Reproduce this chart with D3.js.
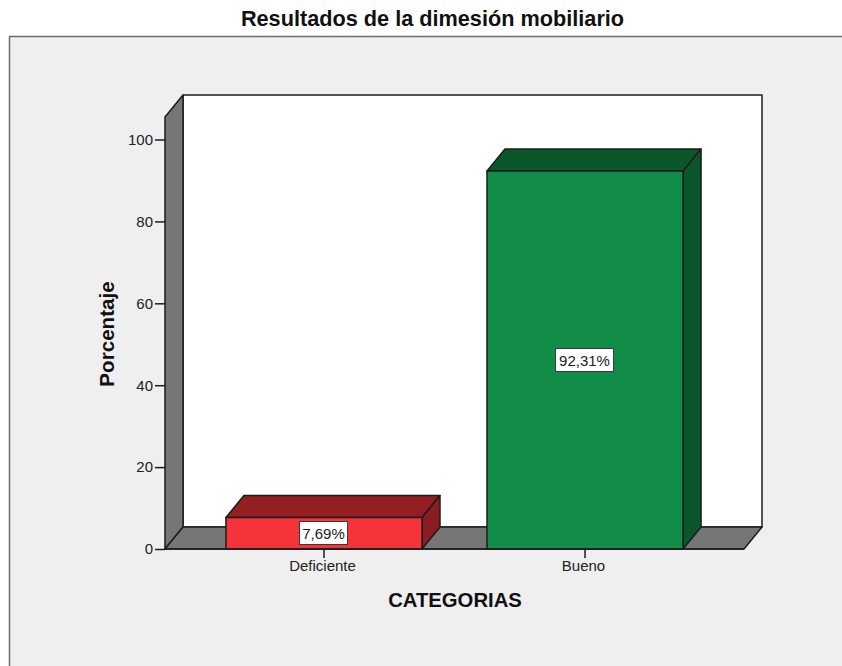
<!DOCTYPE html>
<html><head><meta charset="utf-8">
<style>html,body{margin:0;padding:0;background:#fff}svg{display:block}text{font-family:"Liberation Sans",Arial,sans-serif}</style>
<script src="https://cdn.jsdelivr.net/npm/d3@7"></script></head>
<body><svg id="c" width="842" height="666"></svg>
<script>
const categories=["Deficiente","Bueno"];
const values=[7.69,92.31];
const valueLabels=["7,69%","92,31%"];
const frontColors=["#f4333b","#118d49"];
const topColors=["#931f23","#0a5829"];
const sideColors=["#8a1d21","#0a5529"];
const yTicks=[0,20,40,60,80,100];
const titleText="Resultados de la dimesión mobiliario";
const xTitle="CATEGORIAS";
const yTitle="Porcentaje";

const W=842,H=666,plotLeft=165,plotRight=744,plotBottom=549,plotTop=117,dx=18,dy=22;
const svg=d3.select("#c");
const ink="#1c1c1c";
const x=d3.scaleBand().domain(categories).range([plotLeft,plotRight]).paddingInner(0.249).paddingOuter(0.2335);
const y=d3.scaleLinear().domain([0,105.5]).range([plotBottom,plotTop]);
const poly=p=>p.map(q=>q.join(",")).join(" ");

svg.append("rect").attr("x",9.5).attr("y",36.5).attr("width",W).attr("height",H).attr("fill","#efefef").attr("stroke","#6e6e6e").attr("stroke-width",1.5);
svg.append("text").attr("x",432.5).attr("y",26).attr("text-anchor","middle").attr("font-size",21.7).attr("font-weight","bold").attr("fill","#111").text(titleText);

// walls
const g=svg.append("g").attr("stroke",ink).attr("stroke-width",1.5).attr("stroke-linejoin","round");
g.append("rect").attr("x",plotLeft+dx).attr("y",plotTop-dy).attr("width",plotRight-plotLeft).attr("height",plotBottom-plotTop).attr("fill","#fff");
g.append("polygon").attr("points",poly([[plotLeft,plotTop],[plotLeft+dx,plotTop-dy],[plotLeft+dx,plotBottom-dy],[plotLeft,plotBottom]])).attr("fill","#767676");
g.append("polygon").attr("points",poly([[plotLeft,plotBottom],[plotLeft+dx,plotBottom-dy],[plotRight+dx,plotBottom-dy],[plotRight,plotBottom]])).attr("fill","#767676");

// bars
categories.forEach((c,i)=>{
  const x0=x(c),x1=x0+x.bandwidth(),yt=y(values[i]),b=g.append("g");
  b.append("polygon").attr("points",poly([[x0,yt],[x0+dx,yt-dy],[x1+dx,yt-dy],[x1,yt]])).attr("fill",topColors[i]);
  b.append("polygon").attr("points",poly([[x1,yt],[x1+dx,yt-dy],[x1+dx,plotBottom-dy],[x1,plotBottom]])).attr("fill",sideColors[i]);
  b.append("rect").attr("x",x0).attr("y",yt).attr("width",x.bandwidth()).attr("height",plotBottom-yt).attr("fill",frontColors[i]);
});

// axes
const yAxis=d3.axisLeft(y).tickValues(yTicks).tickSize(10).tickPadding(2);
const ya=svg.append("g").attr("transform",`translate(${plotLeft},0)`).call(yAxis);
ya.select(".domain").remove();
ya.selectAll("line").attr("stroke",ink).attr("stroke-width",1.5);
ya.selectAll("text").attr("font-size",15).attr("fill","#222");
const xAxis=d3.axisBottom(x).tickSize(9).tickPadding(2);
const xa=svg.append("g").attr("transform",`translate(0,${plotBottom})`).call(xAxis);
xa.select(".domain").remove();
xa.selectAll("line").attr("stroke",ink).attr("stroke-width",1.5);
xa.selectAll("text").attr("font-size",15).attr("fill","#222").attr("dx",-1.5);
svg.append("line").attr("x1",plotLeft).attr("x2",plotRight).attr("y1",plotBottom).attr("y2",plotBottom).attr("stroke",ink).attr("stroke-width",1.5);

// value labels
categories.forEach((c,i)=>{
  const cx=x(c)+x.bandwidth()/2,cy=i==0?533:(y(values[i])+plotBottom)/2;
  const w=i==0?48:58,h=23;
  svg.append("rect").attr("x",cx-w/2-0.5).attr("y",cy-h/2).attr("width",w).attr("height",h).attr("fill","#fff").attr("stroke","#3a3a3a").attr("stroke-width",1);
  svg.append("text").attr("x",cx-0.5).attr("y",cy+5.5).attr("text-anchor","middle").attr("font-size",15).attr("fill","#222").text(valueLabels[i]);
});

svg.append("text").attr("x",455).attr("y",607).attr("text-anchor","middle").attr("font-size",20.3).attr("font-weight","bold").attr("fill","#111").text(xTitle);
svg.append("text").attr("transform","translate(114,334) rotate(-90)").attr("text-anchor","middle").attr("font-size",20.6).attr("font-weight","bold").attr("fill","#111").text(yTitle);
</script></body></html>
